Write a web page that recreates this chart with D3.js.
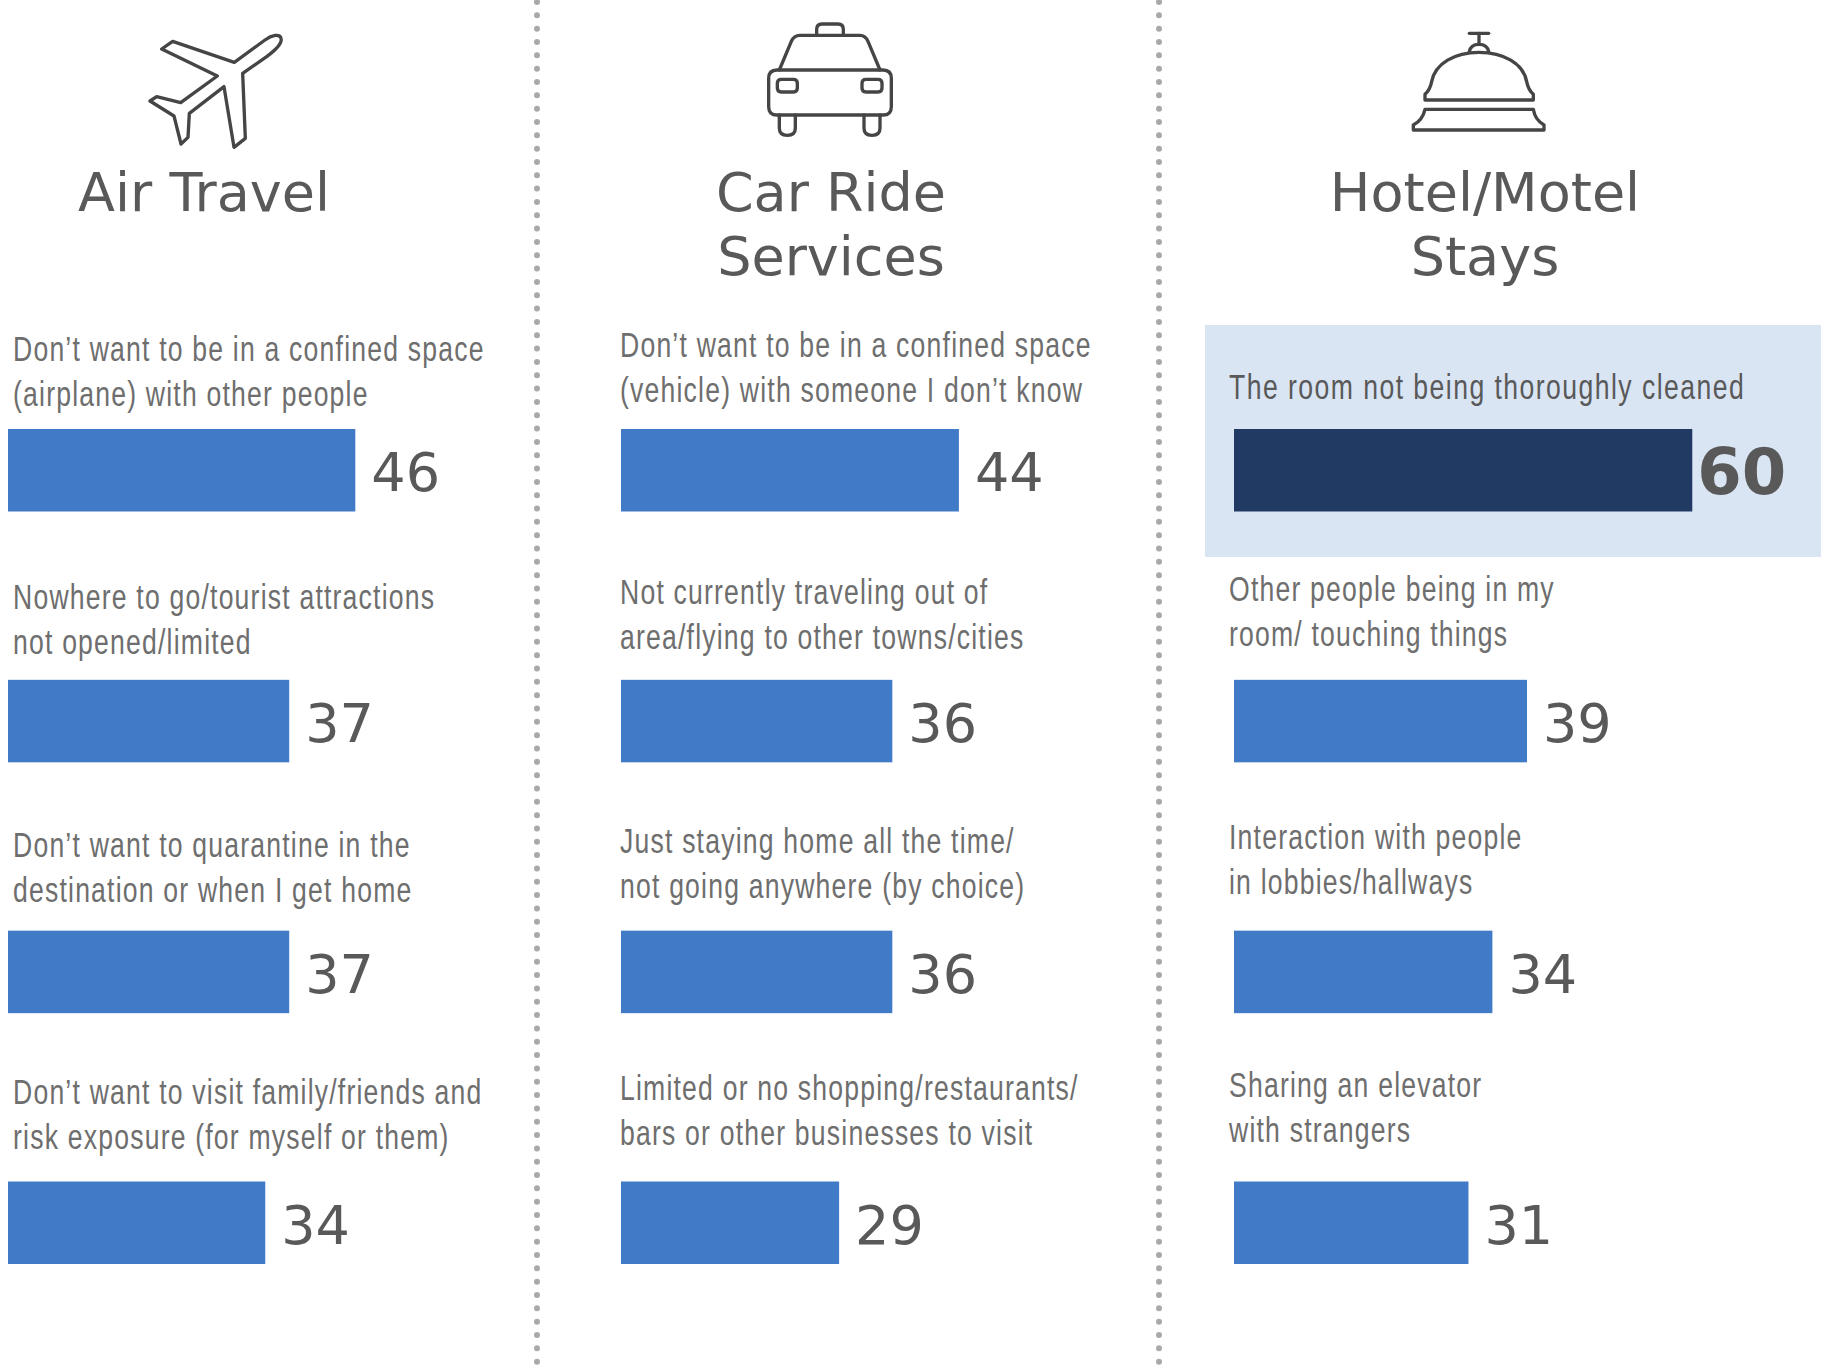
<!DOCTYPE html>
<html><head><meta charset="utf-8">
<script src="https://cdnjs.cloudflare.com/ajax/libs/d3/7.8.5/d3.min.js"></script>
<style>html,body{margin:0;padding:0;background:#fff;overflow:hidden}svg{display:block}</style>
</head><body><svg id="c" width="1821" height="1367"></svg>
<script>
const panelTitles = [["Air Travel"], ["Car Ride", "Services"], ["Hotel/Motel", "Stays"]];
const airLabels = [
  ["Don’t want to be in a confined space", "(airplane) with other people"],
  ["Nowhere to go/tourist attractions", "not opened/limited"],
  ["Don’t want to quarantine in the", "destination or when I get home"],
  ["Don’t want to visit family/friends and", "risk exposure (for myself or them)"]];
const carLabels = [
  ["Don’t want to be in a confined space", "(vehicle) with someone I don’t know"],
  ["Not currently traveling out of", "area/flying to other towns/cities"],
  ["Just staying home all the time/", "not going anywhere (by choice)"],
  ["Limited or no shopping/restaurants/", "bars or other businesses to visit"]];
const hotelLabels = [
  ["The room not being thoroughly cleaned"],
  ["Other people being in my", "room/ touching things"],
  ["Interaction with people", "in lobbies/hallways"],
  ["Sharing an elevator", "with strangers"]];
// bar lengths as measured; the printed labels are these values rounded
const airValues = [45.7, 37, 37, 33.85];
const carValues = [44.46, 35.7, 35.7, 28.7];
const hotelValues = [60.3, 38.55, 34, 30.85];

// layout
const barX = [8, 621, 1234], textX = [13, 620, 1229], titleX = [204, 831, 1485];
const baselines = [[361,609,857,1104],[357,604,853,1100],[399,601,849,1097]];
const sepX = [537, 1159];
const TEXT_SCALE = 0.76, TEXT_SIZE = 35, LINE = 45, BAR_H = 82.5;
const svg = d3.select("#c");
const x = d3.scaleLinear().domain([0, 60]).range([0, 456]);
const y = d3.scalePoint().domain(d3.range(4)).range([429, 1181.5]);
const fmt = d3.format(".0f");

// highlight box
svg.append("rect").attr("x",1205).attr("y",325).attr("width",616).attr("height",232).attr("fill","#DAE5F4");

// separators
svg.selectAll(".sep").data(sepX).join("line").attr("class","sep")
  .attr("x1",d=>d).attr("x2",d=>d).attr("y1",2).attr("y2",1367)
  .attr("stroke","#A9A9A9").attr("stroke-width",6).attr("stroke-linecap","round").attr("stroke-dasharray","0 13.33");

// titles
panelTitles.forEach((lines,i)=>{
  svg.append("text").attr("text-anchor","middle").attr("fill","#595959")
    .attr("font-family","'DejaVu Sans'").attr("font-size",54)
    .selectAll("tspan").data(lines).join("tspan")
    .attr("x",titleX[i]).attr("y",(d,j)=>211+j*64).text(d=>d);
});

// panels
[[airLabels,airValues],[carLabels,carValues],[hotelLabels,hotelValues]].forEach(([labels,values],c)=>{
  values.forEach((v,r)=>{
    const hot = c===2 && r===0;
    svg.append("rect").attr("x",barX[c]).attr("y",y(r)).attr("width",x(v)).attr("height",BAR_H)
      .attr("fill",hot?"#203A63":"#417AC6");
    svg.append("text").attr("x",barX[c]+x(v)+(hot?5:16)).attr("y",y(r)+(hot?65:62))
      .attr("font-family","'DejaVu Sans'").attr("font-size",hot?64:54)
      .attr("font-weight",hot?"bold":"normal").attr("fill","#595959").text(fmt(v));
    labels[r].forEach((t,j)=>{
      svg.append("text")
        .attr("transform",`translate(${textX[c]},${baselines[c][r]+j*LINE}) scale(${TEXT_SCALE},1)`)
        .attr("font-family","'Liberation Sans'").attr("font-size",TEXT_SIZE)
        .attr("letter-spacing",hot?1.9:1.57)
        .attr("fill",hot?"#595959":"#6e6e6e").text(t);
    });
  });
});

// icons
const icon = (tx,ty,ds)=>{
  const g = svg.append("g").attr("transform",`translate(${tx},${ty}) scale(${1/3})`)
    .attr("fill","none").attr("stroke","#454545").attr("stroke-width",10).attr("stroke-linejoin","round").attr("stroke-linecap","round");
  ds.forEach(d=>g.append("path").attr("d",d));
};
icon(100,0,["M403,187 L495,120 C515,105 540,100 543,115 C548,130 520,155 500,170 L428,220 L436,415 L402,442 L372,260 L268,340 L264,412 L243,432 L222,348 L150,303 L170,290 L242,308 L352,228 L185,147 L218,124 Z"]);
icon(720,0,[
  "M290,104 V88 Q290,72 306,72 H354 Q370,72 370,88 V104",
  "M178,210 L214,124 Q222,106 240,106 H420 Q436,106 444,124 L480,210",
  "M171,210 H489 Q514,210 514,235 V320 Q514,345 489,345 H171 Q146,345 146,320 V235 Q146,210 171,210 Z",
  "M184,238 H220 Q232,238 232,250 V264 Q232,276 220,276 H184 Q172,276 172,264 V250 Q172,238 184,238 Z",
  "M438,238 H474 Q486,238 486,250 V264 Q486,276 474,276 H438 Q426,276 426,264 V250 Q426,238 438,238 Z",
  "M178,345 V385 Q178,406 202,406 Q226,406 226,385 V345",
  "M432,345 V385 Q432,406 456,406 Q480,406 480,385 V345"]);
icon(1380,10,[
  "M268,70 H326","M297,70 V100","M268,125 Q272,103 297,103 Q322,103 326,125",
  "M135,270 V253 Q150,240 155,215 C165,160 225,127 297,127 C370,127 430,160 440,215 Q445,240 460,253 V270 Z",
  "M135,298 H460 Q465,330 492,345 V360 H100 V345 Q128,330 135,298 Z"]);
</script></body></html>
